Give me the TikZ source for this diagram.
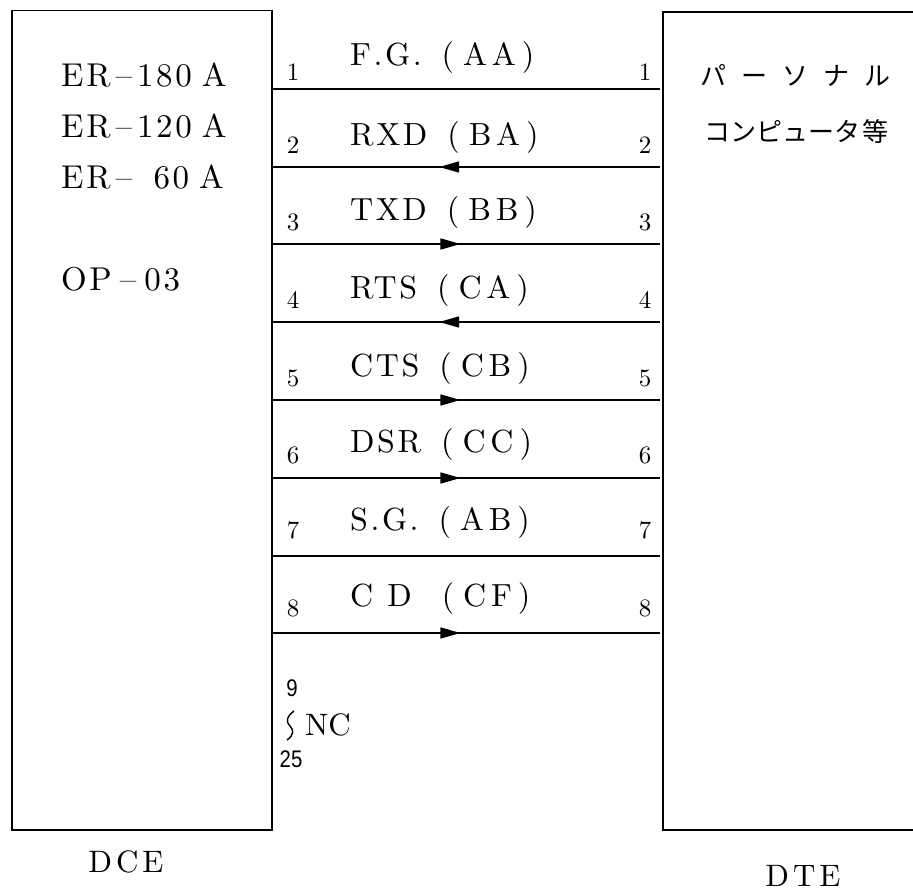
\documentclass[tikz,border=0pt]{standalone}
\usepackage{fontspec}
\newfontfamily\jp{Noto Sans CJK JP}
\newfontfamily\lmten{lmroman10-regular}[Extension=.otf]
\newfontfamily\wide{lmroman10-regular}[Extension=.otf, LetterSpace=8]
\newfontfamily\wider{lmroman10-regular}[Extension=.otf, LetterSpace=15]
\newfontfamily\lsans{Liberation Sans}[FakeStretch=0.85]
\usetikzlibrary{decorations.markings,arrows.meta}
\tikzset{
  wire/.style={line width=1.5pt},
  fwd/.style={wire, postaction={decorate},
    decoration={markings, mark=at position 0.485 with {\arrow{Triangle[length=20pt,width=11pt]}}}},
  bwd/.style={wire, postaction={decorate},
    decoration={markings, mark=at position 0.43 with {\arrowreversed{Triangle[length=20pt,width=11pt]}}}},
  pin/.style={font=\lmten\fontsize{25}{25}\selectfont, inner sep=0pt},
  sig/.style={font=\fontsize{32}{32}\selectfont, inner sep=0pt, anchor=west},
  model/.style={font=\wide\fontsize{33}{33}\selectfont, inner sep=0pt, anchor=base west},
  jptext/.style={font=\jp\fontsize{26}{26}\selectfont, inner sep=0pt, anchor=west},
  side/.style={font=\wide\fontsize{31}{31}\selectfont, inner sep=0pt},
  box/.style={draw, line width=1.5pt},
}
\newcommand{\lab}[3][20pt]{{\wide #2}\hspace{#1}{\wide(}\hspace{9pt}{\wider #3}\hspace{6pt}{\wide)}}
\begin{document}
\begin{tikzpicture}[x=1pt,y=-1pt]
\useasboundingbox (0,0) rectangle (913,891);
% boxes
\node[box, anchor=north west, minimum width=260pt, minimum height=819pt, inner sep=0pt] (dce) at (11,10) {};
\draw[box] (915,12) -- (663,12) coordinate (dtetop) -- (663,830) coordinate (dtebot) -- (915,830);
% model texts
\node[model] (m1) at (61,87) {ER\hspace{5pt}\textendash\hspace{5pt}180\hspace{10pt}A};
\node[model] (m2) at (61,137) {ER\hspace{5pt}\textendash\hspace{5pt}120\hspace{10pt}A};
\node[model] (m3) at (61,188) {ER\hspace{5pt}\textendash\hspace{5pt}\phantom{1}60\hspace{10pt}A};
\node[model] (m4) at (61,290) {OP\hspace{8pt}\textendash\hspace{8pt}03};
% japanese
\node[jptext] (j1) at (700,75) {パ\hspace{15pt}ー\hspace{15pt}ソ\hspace{15pt}ナ\hspace{15pt}ル};
\node[jptext] (j2) at (704,132) {コンピュータ\hspace{2pt}等};
% wires
\foreach \k/\y/\ny/\ly/\sty/\txt in {
  1/89/72/58/wire/{\lab{F.G.}{AA}},
  2/167/145/137/bwd/{\lab{RXD}{BA}},
  3/244/222/212/fwd/{\lab{TXD}{BB}},
  4/322/300/290/bwd/{\lab{RTS}{CA}},
  5/400/378/368/fwd/{\lab{CTS}{CB}},
  6/478/455/444/fwd/{\lab{DSR}{CC}},
  7/556/530/522/wire/{\lab{S.G.}{AB}},
  8/633/608/598/fwd/{\lab[30pt]{C\hspace{14pt}D}{CF}}}{
  \coordinate (L\k) at (dce.east |- 0,\y);
  \coordinate (R\k) at (660,\y);
  \draw[\sty] (L\k) -- (R\k);
  \node[pin] (pl\k) at (293,\ny) {\k};
  \node[pin] (pr\k) at (645,\ny) {\k};
  \node[sig] (s\k) at (350,\ly) {\txt};
}
% NC
\node[font=\lsans\fontsize{24}{24}\selectfont, inner sep=0pt] (n9) at (292,688) {9};
\draw[line width=1.4pt] (294,711) .. controls (286,717) and (286,722) .. (290,726) .. controls (294,730) and (294,735) .. (287,740);
\node[font=\lmten\fontsize{31}{31}\selectfont, inner sep=0pt, anchor=west] (nc) at (305,725) {NC};
\node[font=\lsans\fontsize{24}{24}\selectfont, inner sep=0pt] (n25) at (291,759) {25};
% bottom labels
\node[side] (dcel) at (126,862) {D\hspace{4pt}C\hspace{4pt}E};
\node[side] (dtel) at (803,876) {D\hspace{4pt}T\hspace{4pt}E};
\end{tikzpicture}
\end{document}
